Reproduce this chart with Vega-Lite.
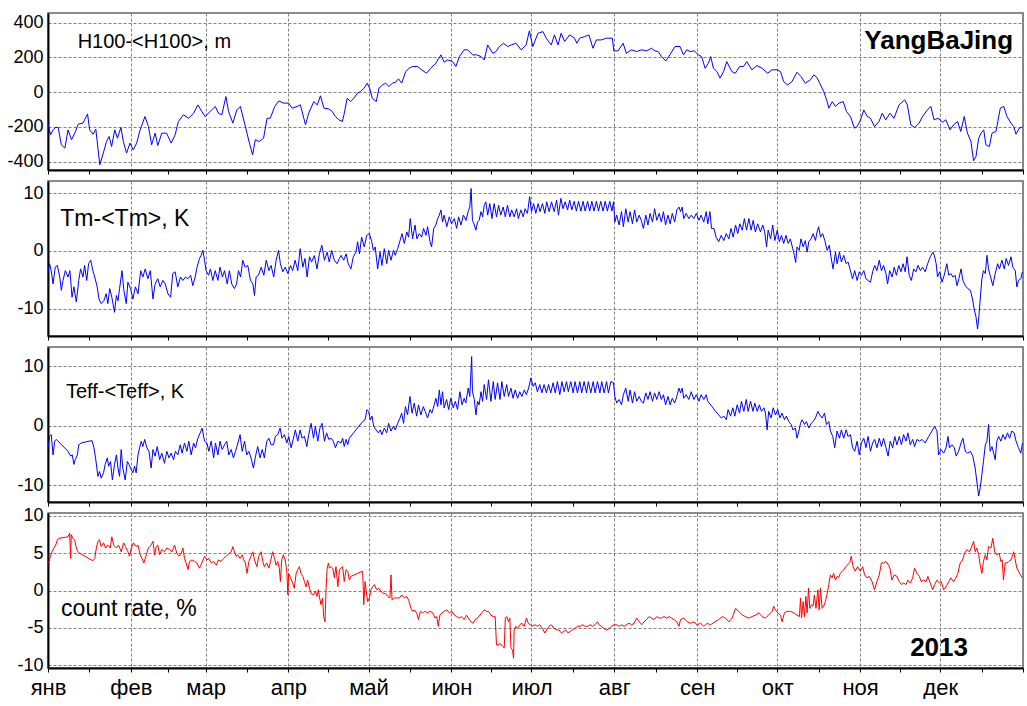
{
"$schema":"https://vega.github.io/schema/vega-lite/v6.json",
"background":"white",
"padding":{"left":6,"top":12,"right":5,"bottom":0},
"bounds":"flush",
"spacing":11,
"config":{
"font":"Liberation Sans",
"view":{"stroke":"#666","strokeWidth":1.5},
"axis":{"labelFont":"Liberation Sans","labelFontSize":18,"labelColor":"#000","gridColor":"#808080","gridDash":[3,2],"gridWidth":1,"domainColor":"#000","domainWidth":2,"tickColor":"#000","labelOverlap":false},
"axisY":{"ticks":false,"labelPadding":5,"labelOverlap":false,"labelFlush":false},
"axisX":{"tickSize":4,"labelFontSize":22,"labelPadding":5,"labelFlush":false,"labelOverlap":false,"labelBound":false}
},
"datasets":{
"h":[{"d":0,"v":-184},{"d":1.0,"v":-245},{"d":1.9,"v":-217},{"d":2.8,"v":-203},{"d":3.8,"v":-203},{"d":5.0,"v":-303},{"d":6.3,"v":-322},{"d":7.5,"v":-217},{"d":8.8,"v":-274},{"d":10.3,"v":-226},{"d":11.3,"v":-184},{"d":13.1,"v":-178},{"d":14.8,"v":-125},{"d":15.6,"v":-217},{"d":16.9,"v":-242},{"d":17.9,"v":-213},{"d":19.4,"v":-418},{"d":20.7,"v":-351},{"d":21.9,"v":-284},{"d":22.9,"v":-255},{"d":23.8,"v":-313},{"d":25.0,"v":-217},{"d":26.0,"v":-265},{"d":27.3,"v":-203},{"d":28.2,"v":-284},{"d":29.4,"v":-351},{"d":30.7,"v":-293},{"d":31.9,"v":-332},{"d":33.2,"v":-293},{"d":34.4,"v":-222},{"d":36.3,"v":-140},{"d":37.6,"v":-198},{"d":38.8,"v":-303},{"d":40.1,"v":-236},{"d":41.1,"v":-307},{"d":42.6,"v":-236},{"d":44.4,"v":-236},{"d":46.1,"v":-293},{"d":47.6,"v":-245},{"d":48.8,"v":-169},{"d":50.7,"v":-130},{"d":52.6,"v":-150},{"d":54.5,"v":-121},{"d":56.1,"v":-73},{"d":57.6,"v":-111},{"d":58.8,"v":-140},{"d":60.7,"v":-111},{"d":62.6,"v":-82},{"d":63.8,"v":-121},{"d":65.1,"v":-130},{"d":66.6,"v":-25},{"d":67.6,"v":-111},{"d":69.2,"v":-178},{"d":70.7,"v":-102},{"d":72.0,"v":-82},{"d":73.9,"v":-198},{"d":75.4,"v":-293},{"d":76.6,"v":-361},{"d":77.6,"v":-274},{"d":79.1,"v":-284},{"d":80.7,"v":-265},{"d":82.0,"v":-150},{"d":83.2,"v":-150},{"d":84.9,"v":-82},{"d":86.4,"v":-50},{"d":88.2,"v":-63},{"d":90.1,"v":-63},{"d":91.4,"v":-92},{"d":93.3,"v":-82},{"d":94.5,"v":-73},{"d":96.4,"v":-188},{"d":97.6,"v":-121},{"d":99.5,"v":-54},{"d":100.8,"v":-73},{"d":102.0,"v":-21},{"d":103.3,"v":-92},{"d":105.1,"v":-96},{"d":106.4,"v":-111},{"d":107.6,"v":-140},{"d":108.9,"v":-159},{"d":110.2,"v":-169},{"d":110.8,"v":-130},{"d":112.0,"v":-35},{"d":113.3,"v":-54},{"d":114.5,"v":-35},{"d":115.8,"v":-6},{"d":117.0,"v":4},{"d":118.3,"v":23},{"d":119.5,"v":52},{"d":120.4,"v":23},{"d":121.4,"v":-35},{"d":122.9,"v":-54},{"d":123.9,"v":23},{"d":125.2,"v":42},{"d":126.4,"v":52},{"d":127.7,"v":33},{"d":128.9,"v":52},{"d":130.2,"v":58},{"d":131.2,"v":77},{"d":132.4,"v":52},{"d":133.9,"v":119},{"d":135.2,"v":138},{"d":136.4,"v":148},{"d":138.3,"v":148},{"d":139.9,"v":129},{"d":141.7,"v":109},{"d":143.3,"v":138},{"d":145.2,"v":167},{"d":147.1,"v":215},{"d":148.3,"v":173},{"d":149.6,"v":186},{"d":151.5,"v":176},{"d":152.7,"v":148},{"d":154.0,"v":205},{"d":155.8,"v":244},{"d":157.1,"v":244},{"d":159.0,"v":215},{"d":160.5,"v":215},{"d":162.1,"v":205},{"d":163.3,"v":186},{"d":164.6,"v":272},{"d":166.5,"v":224},{"d":167.7,"v":234},{"d":169.0,"v":263},{"d":170.5,"v":282},{"d":172.1,"v":263},{"d":173.4,"v":272},{"d":175.2,"v":282},{"d":177.1,"v":244},{"d":179.0,"v":272},{"d":180.2,"v":353},{"d":181.5,"v":263},{"d":183.4,"v":339},{"d":185.3,"v":349},{"d":186.5,"v":311},{"d":188.4,"v":272},{"d":189.6,"v":330},{"d":190.9,"v":272},{"d":192.1,"v":339},{"d":193.4,"v":292},{"d":195.3,"v":330},{"d":197.1,"v":311},{"d":198.0,"v":282},{"d":199.0,"v":311},{"d":200.9,"v":320},{"d":202.5,"v":330},{"d":204.0,"v":253},{"d":205.3,"v":301},{"d":207.2,"v":301},{"d":209.0,"v":311},{"d":211.3,"v":311},{"d":211.8,"v":238},{"d":213.4,"v":238},{"d":215.3,"v":282},{"d":216.5,"v":224},{"d":218.4,"v":244},{"d":220.3,"v":234},{"d":222.2,"v":244},{"d":224.1,"v":238},{"d":225.9,"v":253},{"d":227.2,"v":238},{"d":228.4,"v":234},{"d":229.7,"v":205},{"d":231.3,"v":180},{"d":232.8,"v":215},{"d":234.7,"v":263},{"d":236.6,"v":263},{"d":237.9,"v":215},{"d":239.1,"v":244},{"d":240.4,"v":234},{"d":241.9,"v":238},{"d":243.5,"v":215},{"d":244.7,"v":205},{"d":246.0,"v":138},{"d":247.2,"v":167},{"d":248.1,"v":205},{"d":249.1,"v":138},{"d":250.4,"v":119},{"d":251.6,"v":81},{"d":252.9,"v":119},{"d":254.1,"v":176},{"d":256.0,"v":119},{"d":257.3,"v":109},{"d":258.9,"v":148},{"d":260.4,"v":148},{"d":261.6,"v":176},{"d":263.5,"v":129},{"d":265.4,"v":153},{"d":267.3,"v":138},{"d":269.4,"v":109},{"d":271.0,"v":129},{"d":272.9,"v":129},{"d":274.2,"v":119},{"d":275.4,"v":61},{"d":276.9,"v":42},{"d":278.5,"v":61},{"d":280.4,"v":115},{"d":281.9,"v":90},{"d":283.5,"v":52},{"d":285.4,"v":71},{"d":286.7,"v":100},{"d":287.9,"v":84},{"d":288.9,"v":52},{"d":290.4,"v":4},{"d":291.7,"v":-54},{"d":292.3,"v":-92},{"d":293.6,"v":-54},{"d":294.8,"v":-82},{"d":296.1,"v":-63},{"d":297.7,"v":-54},{"d":298.9,"v":-111},{"d":300.4,"v":-140},{"d":301.9,"v":-207},{"d":302.9,"v":-198},{"d":304.2,"v":-159},{"d":305.4,"v":-102},{"d":306.7,"v":-140},{"d":307.9,"v":-150},{"d":309.4,"v":-198},{"d":311.1,"v":-169},{"d":312.3,"v":-121},{"d":313.6,"v":-159},{"d":315.2,"v":-121},{"d":316.7,"v":-150},{"d":318.6,"v":-73},{"d":320.7,"v":-44},{"d":321.7,"v":-73},{"d":323.0,"v":-188},{"d":324.5,"v":-203},{"d":326.1,"v":-178},{"d":327.4,"v":-140},{"d":329.2,"v":-102},{"d":330.5,"v":-82},{"d":331.7,"v":-159},{"d":333.2,"v":-150},{"d":334.9,"v":-173},{"d":336.1,"v":-159},{"d":337.7,"v":-217},{"d":339.0,"v":-188},{"d":340.5,"v":-169},{"d":341.7,"v":-226},{"d":343.0,"v":-140},{"d":344.2,"v":-236},{"d":345.5,"v":-284},{"d":346.5,"v":-395},{"d":347.4,"v":-370},{"d":348.4,"v":-265},{"d":349.3,"v":-236},{"d":350.3,"v":-217},{"d":351.1,"v":-303},{"d":352.4,"v":-313},{"d":353.4,"v":-236},{"d":354.9,"v":-226},{"d":356.5,"v":-92},{"d":357.8,"v":-82},{"d":359.0,"v":-140},{"d":360.5,"v":-178},{"d":361.5,"v":-198},{"d":362.4,"v":-242},{"d":363.6,"v":-207},{"d":364.8,"v":-200}],
"tm":[{"d":0,"v":-3.6},{"d":0.6,"v":-2.2},{"d":1.2,"v":-3.4},{"d":1.9,"v":-5.7},{"d":2.7,"v":-2.8},{"d":3.5,"v":-2.5},{"d":4.4,"v":-4.5},{"d":5.0,"v":-6.8},{"d":5.6,"v":-5.1},{"d":6.5,"v":-3.4},{"d":7.5,"v":-4.5},{"d":8.2,"v":-3.4},{"d":9.0,"v":-8.0},{"d":9.7,"v":-6.2},{"d":10.6,"v":-8.8},{"d":11.5,"v":-5.1},{"d":12.2,"v":-3.1},{"d":13.1,"v":-4.5},{"d":13.7,"v":-2.5},{"d":14.5,"v":-5.1},{"d":15.2,"v":-2.2},{"d":16.0,"v":-1.6},{"d":16.8,"v":-3.4},{"d":17.5,"v":-4.5},{"d":18.4,"v":-6.2},{"d":19.1,"v":-8.3},{"d":19.9,"v":-9.1},{"d":20.9,"v":-8.6},{"d":21.8,"v":-7.4},{"d":22.4,"v":-9.1},{"d":23.1,"v":-6.5},{"d":23.9,"v":-8.0},{"d":24.9,"v":-10.6},{"d":25.6,"v":-7.7},{"d":26.2,"v":-8.6},{"d":26.8,"v":-6.5},{"d":27.7,"v":-3.4},{"d":28.4,"v":-6.8},{"d":29.3,"v":-9.1},{"d":29.9,"v":-5.4},{"d":30.9,"v":-6.5},{"d":31.8,"v":-8.3},{"d":32.7,"v":-6.2},{"d":33.7,"v":-7.4},{"d":34.7,"v":-3.4},{"d":35.5,"v":-4.5},{"d":36.4,"v":-3.1},{"d":37.4,"v":-4.8},{"d":38.3,"v":-3.4},{"d":39.3,"v":-8.3},{"d":40.1,"v":-5.7},{"d":41.1,"v":-4.8},{"d":42.0,"v":-6.2},{"d":43.0,"v":-5.1},{"d":43.9,"v":-5.7},{"d":44.9,"v":-7.4},{"d":45.9,"v":-8.0},{"d":46.7,"v":-3.9},{"d":47.6,"v":-3.6},{"d":48.6,"v":-6.2},{"d":49.6,"v":-4.5},{"d":50.5,"v":-5.1},{"d":51.5,"v":-4.5},{"d":52.4,"v":-4.8},{"d":53.4,"v":-4.2},{"d":54.2,"v":-6.0},{"d":55.1,"v":-4.5},{"d":55.8,"v":-2.8},{"d":56.7,"v":-1.3},{"d":57.3,"v":-0.8},{"d":58.0,"v":0.1},{"d":58.6,"v":-1.6},{"d":59.2,"v":-3.4},{"d":60.1,"v":-4.2},{"d":60.8,"v":-3.1},{"d":61.7,"v":-5.1},{"d":62.6,"v":-3.4},{"d":63.6,"v":-5.1},{"d":64.4,"v":-2.8},{"d":65.3,"v":-4.5},{"d":66.1,"v":-3.4},{"d":67.1,"v":-5.7},{"d":67.9,"v":-3.4},{"d":68.8,"v":-5.7},{"d":69.8,"v":-6.5},{"d":70.6,"v":-5.7},{"d":71.3,"v":-3.4},{"d":72.1,"v":-4.5},{"d":72.9,"v":-1.6},{"d":73.8,"v":-2.8},{"d":74.8,"v":-2.5},{"d":75.8,"v":-5.1},{"d":76.7,"v":-5.7},{"d":77.3,"v":-7.7},{"d":77.9,"v":-4.5},{"d":78.8,"v":-4.2},{"d":79.8,"v":-2.8},{"d":80.8,"v":-4.2},{"d":81.7,"v":-1.6},{"d":82.7,"v":-3.4},{"d":83.5,"v":-2.5},{"d":84.5,"v":-4.5},{"d":85.4,"v":-1.6},{"d":86.3,"v":0.1},{"d":87.0,"v":-2.2},{"d":87.9,"v":-3.6},{"d":88.8,"v":-2.8},{"d":89.8,"v":-3.9},{"d":90.8,"v":-2.5},{"d":91.6,"v":-3.4},{"d":92.5,"v":-1.6},{"d":93.5,"v":-3.4},{"d":94.4,"v":0.4},{"d":95.4,"v":-2.8},{"d":96.2,"v":-1.3},{"d":97.0,"v":-4.5},{"d":97.9,"v":-1.0},{"d":98.7,"v":-1.9},{"d":99.7,"v":-0.8},{"d":100.7,"v":-3.1},{"d":101.6,"v":-0.5},{"d":102.5,"v":1.0},{"d":103.5,"v":-1.6},{"d":104.5,"v":-0.2},{"d":105.3,"v":-1.9},{"d":106.2,"v":0.1},{"d":107.2,"v":-1.6},{"d":108.2,"v":-2.2},{"d":109.1,"v":-1.3},{"d":109.7,"v":-0.75},{"d":110.7,"v":-1.6},{"d":111.6,"v":-0.5},{"d":112.4,"v":-2.2},{"d":113.4,"v":-3.1},{"d":114.3,"v":-1.0},{"d":115.3,"v":-0.2},{"d":115.9,"v":1.6},{"d":116.6,"v":-0.5},{"d":117.4,"v":2.4},{"d":118.4,"v":0.7},{"d":119.3,"v":2.7},{"d":120.3,"v":3.0},{"d":121.2,"v":1.6},{"d":121.8,"v":0.1},{"d":122.5,"v":0.7},{"d":123.4,"v":-3.1},{"d":124.3,"v":-0.2},{"d":125.0,"v":-2.5},{"d":125.9,"v":0.4},{"d":126.8,"v":-2.2},{"d":127.5,"v":0.1},{"d":128.4,"v":-1.6},{"d":129.3,"v":0.1},{"d":130.0,"v":-0.75},{"d":130.9,"v":0.4},{"d":131.8,"v":1.8},{"d":132.5,"v":3.0},{"d":133.4,"v":1.3},{"d":134.3,"v":3.3},{"d":135.0,"v":2.4},{"d":135.6,"v":5.6},{"d":136.5,"v":2.1},{"d":137.4,"v":4.5},{"d":138.1,"v":2.1},{"d":139.0,"v":3.0},{"d":139.9,"v":2.4},{"d":140.6,"v":3.9},{"d":141.5,"v":2.7},{"d":142.1,"v":4.2},{"d":143.0,"v":1.6},{"d":143.6,"v":0.7},{"d":144.4,"v":3.9},{"d":145.2,"v":4.5},{"d":145.9,"v":5.6},{"d":146.5,"v":6.2},{"d":147.1,"v":7.1},{"d":147.7,"v":5.0},{"d":148.3,"v":6.2},{"d":149.3,"v":4.2},{"d":150.2,"v":5.9},{"d":151.1,"v":4.7},{"d":152.1,"v":5.6},{"d":153.0,"v":3.9},{"d":153.7,"v":5.9},{"d":154.6,"v":4.5},{"d":155.5,"v":6.2},{"d":156.5,"v":5.3},{"d":157.3,"v":6.8},{"d":157.9,"v":7.6},{"d":158.4,"v":10.8},{"d":158.9,"v":5.3},{"d":159.6,"v":4.5},{"d":160.2,"v":3.6},{"d":160.8,"v":5.0},{"d":161.4,"v":5.3},{"d":162.1,"v":6.8},{"d":162.7,"v":5.9},{"d":163.3,"v":7.9},{"d":163.9,"v":8.5},{"d":164.6,"v":6.2},{"d":165.4,"v":8.2},{"d":166.2,"v":5.6},{"d":167.0,"v":8.2},{"d":167.9,"v":5.9},{"d":168.7,"v":7.9},{"d":169.5,"v":6.2},{"d":170.4,"v":7.6},{"d":171.2,"v":5.9},{"d":172.0,"v":7.9},{"d":172.9,"v":5.9},{"d":173.6,"v":7.1},{"d":174.5,"v":5.9},{"d":175.4,"v":7.3},{"d":176.1,"v":5.6},{"d":177.0,"v":7.1},{"d":177.9,"v":5.9},{"d":178.6,"v":7.3},{"d":179.5,"v":6.5},{"d":180.3,"v":9.4},{"d":181.0,"v":6.8},{"d":181.8,"v":8.2},{"d":182.6,"v":6.5},{"d":183.5,"v":8.2},{"d":184.2,"v":6.8},{"d":185.1,"v":8.2},{"d":186.0,"v":6.5},{"d":186.7,"v":8.5},{"d":187.6,"v":6.8},{"d":188.5,"v":8.5},{"d":189.5,"v":6.8},{"d":190.4,"v":8.8},{"d":191.1,"v":6.2},{"d":192.0,"v":9.1},{"d":192.8,"v":7.3},{"d":193.6,"v":8.5},{"d":194.5,"v":7.1},{"d":195.3,"v":8.8},{"d":196.1,"v":7.1},{"d":197.0,"v":8.6},{"d":197.8,"v":6.9},{"d":198.6,"v":8.6},{"d":199.5,"v":6.9},{"d":200.3,"v":8.6},{"d":201.1,"v":6.9},{"d":202.0,"v":8.6},{"d":202.8,"v":6.9},{"d":203.6,"v":8.6},{"d":204.4,"v":6.9},{"d":205.3,"v":8.6},{"d":206.1,"v":6.9},{"d":206.9,"v":8.6},{"d":207.8,"v":6.9},{"d":208.6,"v":8.6},{"d":209.4,"v":6.9},{"d":210.3,"v":8.6},{"d":211.1,"v":6.9},{"d":211.7,"v":8.5},{"d":212.2,"v":5.0},{"d":212.9,"v":6.2},{"d":213.8,"v":4.5},{"d":214.7,"v":6.8},{"d":215.4,"v":4.2},{"d":216.3,"v":7.3},{"d":217.2,"v":5.0},{"d":217.9,"v":6.8},{"d":218.8,"v":4.7},{"d":219.6,"v":7.1},{"d":220.4,"v":5.0},{"d":221.3,"v":6.2},{"d":222.1,"v":5.3},{"d":222.9,"v":3.9},{"d":223.8,"v":6.2},{"d":224.6,"v":4.5},{"d":225.4,"v":6.5},{"d":226.3,"v":5.0},{"d":227.1,"v":7.3},{"d":227.9,"v":5.3},{"d":228.8,"v":6.5},{"d":229.6,"v":5.0},{"d":230.4,"v":6.8},{"d":231.2,"v":4.5},{"d":232.1,"v":6.2},{"d":232.9,"v":4.7},{"d":233.7,"v":6.5},{"d":234.6,"v":5.0},{"d":235.4,"v":7.1},{"d":236.2,"v":7.6},{"d":236.8,"v":6.8},{"d":237.4,"v":7.6},{"d":238.0,"v":5.6},{"d":238.9,"v":6.5},{"d":239.9,"v":5.6},{"d":240.8,"v":6.2},{"d":241.8,"v":5.6},{"d":242.7,"v":6.5},{"d":243.7,"v":5.3},{"d":244.5,"v":6.2},{"d":245.5,"v":5.0},{"d":246.4,"v":6.8},{"d":247.0,"v":4.7},{"d":247.8,"v":6.8},{"d":248.4,"v":3.9},{"d":249.3,"v":3.9},{"d":250.1,"v":2.4},{"d":251.1,"v":1.6},{"d":252.0,"v":2.7},{"d":253.0,"v":1.8},{"d":253.9,"v":3.0},{"d":254.9,"v":2.1},{"d":255.7,"v":3.9},{"d":256.5,"v":2.4},{"d":257.4,"v":4.5},{"d":258.2,"v":3.0},{"d":259.0,"v":4.7},{"d":259.9,"v":3.6},{"d":260.7,"v":5.6},{"d":261.5,"v":3.6},{"d":262.4,"v":5.6},{"d":263.2,"v":3.6},{"d":264.0,"v":5.3},{"d":264.8,"v":3.3},{"d":265.7,"v":4.7},{"d":266.7,"v":3.3},{"d":267.6,"v":4.5},{"d":268.3,"v":3.3},{"d":269.0,"v":0.7},{"d":269.6,"v":3.6},{"d":270.5,"v":2.1},{"d":271.3,"v":4.5},{"d":272.1,"v":1.8},{"d":273.0,"v":3.6},{"d":273.8,"v":1.6},{"d":274.6,"v":2.7},{"d":275.4,"v":1.3},{"d":276.3,"v":2.7},{"d":277.1,"v":1.3},{"d":277.9,"v":2.1},{"d":278.8,"v":0.4},{"d":279.4,"v":-0.75},{"d":279.9,"v":-2.0},{"d":280.4,"v":0.7},{"d":281.2,"v":0.1},{"d":281.9,"v":2.1},{"d":282.7,"v":0.7},{"d":283.5,"v":1.8},{"d":284.2,"v":-0.2},{"d":284.8,"v":1.6},{"d":285.7,"v":2.1},{"d":286.4,"v":3.0},{"d":287.3,"v":1.8},{"d":287.9,"v":3.3},{"d":288.5,"v":4.2},{"d":289.2,"v":2.4},{"d":290.0,"v":3.0},{"d":290.8,"v":1.8},{"d":291.7,"v":0.1},{"d":292.5,"v":1.0},{"d":293.1,"v":-1.0},{"d":293.9,"v":-3.1},{"d":294.8,"v":-0.2},{"d":295.4,"v":-2.2},{"d":296.3,"v":-0.2},{"d":297.0,"v":-1.9},{"d":297.9,"v":-0.75},{"d":298.8,"v":-2.2},{"d":299.5,"v":-1.9},{"d":300.4,"v":-3.4},{"d":301.2,"v":-4.8},{"d":302.0,"v":-3.4},{"d":302.9,"v":-5.1},{"d":303.7,"v":-3.6},{"d":304.5,"v":-4.2},{"d":305.4,"v":-3.4},{"d":306.2,"v":-4.8},{"d":307.0,"v":-5.1},{"d":307.9,"v":-5.4},{"d":308.7,"v":-3.6},{"d":309.5,"v":-2.5},{"d":310.3,"v":-3.4},{"d":311.2,"v":-1.6},{"d":312.0,"v":-3.4},{"d":312.8,"v":-2.5},{"d":313.7,"v":-3.9},{"d":314.3,"v":-5.7},{"d":315.1,"v":-3.4},{"d":316.0,"v":-4.5},{"d":316.8,"v":-2.8},{"d":317.6,"v":-4.2},{"d":318.5,"v":-2.5},{"d":319.3,"v":-3.6},{"d":320.1,"v":-2.2},{"d":320.9,"v":-3.6},{"d":321.6,"v":-1.0},{"d":322.4,"v":-4.2},{"d":323.2,"v":-5.1},{"d":324.1,"v":-3.1},{"d":324.9,"v":-3.6},{"d":325.7,"v":-2.5},{"d":326.6,"v":-3.4},{"d":327.4,"v":-2.8},{"d":328.4,"v":-3.6},{"d":329.3,"v":-2.2},{"d":330.3,"v":-1.0},{"d":331.3,"v":-0.2},{"d":331.8,"v":-0.75},{"d":332.5,"v":-2.2},{"d":333.0,"v":-4.5},{"d":333.8,"v":-3.6},{"d":334.7,"v":-5.4},{"d":335.5,"v":-4.2},{"d":336.5,"v":-2.2},{"d":337.2,"v":-4.2},{"d":338.0,"v":-3.9},{"d":338.8,"v":-4.5},{"d":339.6,"v":-4.2},{"d":340.3,"v":-6.0},{"d":341.0,"v":-4.8},{"d":341.8,"v":-3.1},{"d":342.5,"v":-5.1},{"d":343.4,"v":-6.0},{"d":344.3,"v":-6.5},{"d":345.3,"v":-6.8},{"d":346.1,"v":-8.3},{"d":346.7,"v":-10.0},{"d":347.4,"v":-11.4},{"d":348.0,"v":-13.5},{"d":348.5,"v":-11.2},{"d":349.0,"v":-8.3},{"d":349.6,"v":-4.8},{"d":350.2,"v":-3.4},{"d":350.9,"v":-3.9},{"d":351.5,"v":-0.75},{"d":352.1,"v":-3.1},{"d":352.7,"v":-4.2},{"d":353.7,"v":-6.0},{"d":354.6,"v":-3.9},{"d":355.5,"v":-2.2},{"d":356.2,"v":-3.1},{"d":357.1,"v":-1.6},{"d":358.0,"v":-3.1},{"d":358.7,"v":-1.3},{"d":359.6,"v":-2.5},{"d":360.5,"v":-1.0},{"d":361.2,"v":-2.8},{"d":362.1,"v":-3.4},{"d":362.7,"v":-6.2},{"d":363.3,"v":-5.1},{"d":364.2,"v":-4.8},{"d":364.8,"v":-3.6}],
"te":[{"d":0,"v":-3.7},{"d":0.6,"v":-1.8},{"d":1.2,"v":-1.5},{"d":1.9,"v":-4.9},{"d":2.5,"v":-2.6},{"d":3.1,"v":-2.3},{"d":7.5,"v":-4.3},{"d":8.5,"v":-5.1},{"d":9.1,"v":-4.9},{"d":9.7,"v":-6.5},{"d":10.2,"v":-5.7},{"d":11.0,"v":-4.9},{"d":11.5,"v":-3.2},{"d":12.5,"v":-2.9},{"d":14.3,"v":-2.7},{"d":16.5,"v":-2.5},{"d":17.2,"v":-3.7},{"d":17.8,"v":-5.4},{"d":18.7,"v":-8.5},{"d":19.3,"v":-7.7},{"d":19.9,"v":-8.8},{"d":20.8,"v":-7.9},{"d":21.4,"v":-6.5},{"d":22.2,"v":-5.4},{"d":22.7,"v":-6.8},{"d":23.4,"v":-6.0},{"d":24.1,"v":-9.1},{"d":24.9,"v":-6.5},{"d":25.6,"v":-4.9},{"d":26.2,"v":-7.1},{"d":26.8,"v":-8.5},{"d":27.4,"v":-4.0},{"d":28.0,"v":-7.1},{"d":28.9,"v":-9.1},{"d":29.7,"v":-6.0},{"d":30.3,"v":-6.5},{"d":31.2,"v":-7.4},{"d":31.8,"v":-7.9},{"d":32.4,"v":-6.8},{"d":33.0,"v":-7.9},{"d":33.7,"v":-4.9},{"d":34.3,"v":-3.7},{"d":34.9,"v":-2.6},{"d":35.5,"v":-3.5},{"d":36.2,"v":-2.3},{"d":37.0,"v":-3.7},{"d":37.8,"v":-4.3},{"d":38.6,"v":-7.1},{"d":39.3,"v":-4.0},{"d":40.1,"v":-5.1},{"d":40.9,"v":-3.5},{"d":41.8,"v":-5.7},{"d":42.6,"v":-4.6},{"d":43.6,"v":-6.3},{"d":44.5,"v":-4.3},{"d":45.3,"v":-5.4},{"d":46.1,"v":-4.6},{"d":47.0,"v":-5.7},{"d":47.7,"v":-4.3},{"d":48.6,"v":-4.9},{"d":49.5,"v":-3.2},{"d":50.2,"v":-4.6},{"d":51.1,"v":-2.9},{"d":52.0,"v":-4.3},{"d":52.7,"v":-2.6},{"d":53.6,"v":-4.9},{"d":54.5,"v":-2.9},{"d":55.2,"v":-3.7},{"d":56.1,"v":-2.1},{"d":57.0,"v":-1.2},{"d":57.7,"v":-0.4},{"d":58.6,"v":-2.6},{"d":59.5,"v":-2.9},{"d":60.2,"v":-4.3},{"d":61.1,"v":-2.6},{"d":62.0,"v":-5.4},{"d":62.7,"v":-2.9},{"d":63.6,"v":-4.9},{"d":64.4,"v":-2.6},{"d":65.2,"v":-4.0},{"d":66.1,"v":-3.2},{"d":66.9,"v":-2.6},{"d":67.7,"v":-4.9},{"d":68.6,"v":-4.0},{"d":69.4,"v":-5.4},{"d":70.2,"v":-4.3},{"d":71.1,"v":-2.9},{"d":71.9,"v":-1.5},{"d":72.7,"v":-4.3},{"d":73.6,"v":-2.6},{"d":74.4,"v":-4.9},{"d":75.2,"v":-4.3},{"d":76.0,"v":-5.4},{"d":76.9,"v":-7.1},{"d":77.7,"v":-5.1},{"d":78.5,"v":-3.5},{"d":79.4,"v":-5.4},{"d":80.2,"v":-4.0},{"d":81.0,"v":-5.4},{"d":81.9,"v":-2.6},{"d":82.7,"v":-2.1},{"d":83.5,"v":-3.2},{"d":84.4,"v":-3.2},{"d":85.1,"v":-1.8},{"d":86.0,"v":-1.5},{"d":86.9,"v":-0.4},{"d":87.6,"v":-2.1},{"d":88.5,"v":-1.5},{"d":89.4,"v":-2.9},{"d":90.1,"v":-1.8},{"d":91.0,"v":-3.7},{"d":91.9,"v":-2.1},{"d":92.6,"v":-0.7},{"d":93.5,"v":-2.6},{"d":94.4,"v":-0.7},{"d":95.1,"v":-2.1},{"d":96.0,"v":-1.8},{"d":96.9,"v":-3.5},{"d":97.6,"v":-1.5},{"d":98.5,"v":0.4},{"d":99.4,"v":-2.1},{"d":100.1,"v":-0.1},{"d":101.0,"v":-2.6},{"d":101.8,"v":-0.4},{"d":102.6,"v":0.4},{"d":103.5,"v":-2.6},{"d":104.3,"v":-1.2},{"d":105.1,"v":-2.3},{"d":106.0,"v":-2.1},{"d":106.8,"v":-2.6},{"d":107.6,"v":-3.7},{"d":108.5,"v":-2.6},{"d":109.7,"v":-2.9},{"d":110.3,"v":-2.1},{"d":110.9,"v":-3.5},{"d":111.6,"v":-2.3},{"d":112.2,"v":-3.2},{"d":112.8,"v":-2.1},{"d":117.8,"v":0.7},{"d":118.7,"v":1.0},{"d":119.4,"v":2.7},{"d":120.0,"v":2.4},{"d":120.7,"v":1.0},{"d":121.3,"v":1.6},{"d":121.9,"v":-0.1},{"d":122.8,"v":-0.7},{"d":123.7,"v":-1.2},{"d":124.4,"v":-0.7},{"d":125.0,"v":-1.5},{"d":125.9,"v":-0.4},{"d":126.8,"v":-1.2},{"d":127.5,"v":0.4},{"d":128.4,"v":-0.9},{"d":129.3,"v":-0.1},{"d":130.0,"v":-0.7},{"d":130.9,"v":0.4},{"d":131.8,"v":1.3},{"d":132.4,"v":2.1},{"d":133.1,"v":0.4},{"d":133.8,"v":3.2},{"d":134.6,"v":1.8},{"d":135.5,"v":4.9},{"d":136.3,"v":2.1},{"d":137.1,"v":3.8},{"d":138.0,"v":1.6},{"d":138.7,"v":3.5},{"d":139.6,"v":1.8},{"d":140.5,"v":3.2},{"d":141.2,"v":2.4},{"d":142.1,"v":1.3},{"d":143.0,"v":2.7},{"d":143.7,"v":2.1},{"d":144.6,"v":3.5},{"d":145.2,"v":4.6},{"d":145.9,"v":3.2},{"d":146.5,"v":6.0},{"d":147.1,"v":3.5},{"d":147.7,"v":5.7},{"d":148.3,"v":3.0},{"d":149.2,"v":4.4},{"d":150.0,"v":2.7},{"d":150.8,"v":4.6},{"d":151.7,"v":3.0},{"d":152.5,"v":4.1},{"d":153.3,"v":2.7},{"d":154.2,"v":5.7},{"d":155.0,"v":3.5},{"d":155.8,"v":4.6},{"d":156.4,"v":3.8},{"d":157.3,"v":6.3},{"d":157.9,"v":4.9},{"d":158.6,"v":11.6},{"d":158.9,"v":5.7},{"d":159.6,"v":4.4},{"d":160.2,"v":1.8},{"d":160.8,"v":4.1},{"d":161.4,"v":3.5},{"d":162.1,"v":5.7},{"d":162.7,"v":4.1},{"d":163.3,"v":6.9},{"d":164.2,"v":4.4},{"d":164.9,"v":7.7},{"d":165.8,"v":4.1},{"d":166.7,"v":7.4},{"d":167.4,"v":4.4},{"d":168.3,"v":7.2},{"d":169.2,"v":4.4},{"d":169.9,"v":7.4},{"d":170.8,"v":4.9},{"d":171.7,"v":6.9},{"d":172.4,"v":4.9},{"d":173.3,"v":6.3},{"d":174.1,"v":4.6},{"d":174.9,"v":6.0},{"d":175.8,"v":4.6},{"d":176.6,"v":5.7},{"d":177.4,"v":4.9},{"d":178.3,"v":6.0},{"d":179.1,"v":5.2},{"d":179.9,"v":6.3},{"d":180.8,"v":8.0},{"d":181.6,"v":6.6},{"d":182.4,"v":7.2},{"d":183.2,"v":5.7},{"d":184.1,"v":6.9},{"d":184.9,"v":5.5},{"d":185.7,"v":6.9},{"d":186.6,"v":5.5},{"d":187.4,"v":6.9},{"d":188.2,"v":5.5},{"d":189.1,"v":7.2},{"d":189.9,"v":5.5},{"d":190.7,"v":7.4},{"d":191.6,"v":5.2},{"d":192.4,"v":7.4},{"d":193.2,"v":5.7},{"d":194.1,"v":7.4},{"d":194.8,"v":5.7},{"d":195.7,"v":7.4},{"d":196.6,"v":5.5},{"d":197.3,"v":7.4},{"d":198.2,"v":5.5},{"d":199.1,"v":7.4},{"d":199.8,"v":5.5},{"d":200.7,"v":7.4},{"d":201.6,"v":5.5},{"d":202.3,"v":7.4},{"d":203.2,"v":5.5},{"d":204.1,"v":7.4},{"d":204.8,"v":5.5},{"d":205.7,"v":7.4},{"d":206.6,"v":5.5},{"d":207.3,"v":7.4},{"d":208.2,"v":5.5},{"d":209.1,"v":7.4},{"d":209.8,"v":5.5},{"d":210.7,"v":7.4},{"d":211.7,"v":7.2},{"d":212.2,"v":4.9},{"d":212.9,"v":3.8},{"d":213.8,"v":4.4},{"d":214.7,"v":3.5},{"d":215.4,"v":5.2},{"d":216.3,"v":6.3},{"d":217.2,"v":4.1},{"d":217.9,"v":6.0},{"d":218.8,"v":3.8},{"d":219.6,"v":5.7},{"d":220.4,"v":4.1},{"d":221.3,"v":4.9},{"d":222.1,"v":4.1},{"d":222.9,"v":3.8},{"d":223.8,"v":5.5},{"d":224.6,"v":4.4},{"d":225.4,"v":5.7},{"d":226.3,"v":4.1},{"d":227.1,"v":5.5},{"d":227.9,"v":4.4},{"d":228.8,"v":5.7},{"d":229.6,"v":4.4},{"d":230.4,"v":5.2},{"d":231.2,"v":3.5},{"d":232.1,"v":4.9},{"d":232.9,"v":3.5},{"d":233.7,"v":4.6},{"d":234.6,"v":3.8},{"d":235.4,"v":4.9},{"d":236.2,"v":6.3},{"d":236.8,"v":5.5},{"d":237.4,"v":6.3},{"d":238.0,"v":4.6},{"d":238.9,"v":5.2},{"d":239.9,"v":4.4},{"d":240.8,"v":5.7},{"d":241.8,"v":4.4},{"d":242.7,"v":5.2},{"d":243.7,"v":4.1},{"d":244.5,"v":5.2},{"d":245.5,"v":4.4},{"d":246.4,"v":5.2},{"d":247.0,"v":4.1},{"d":248.6,"v":3.2},{"d":249.9,"v":2.4},{"d":251.1,"v":1.8},{"d":252.0,"v":1.3},{"d":253.0,"v":1.6},{"d":253.9,"v":1.0},{"d":254.6,"v":2.7},{"d":255.5,"v":1.6},{"d":256.4,"v":3.0},{"d":257.1,"v":1.6},{"d":258.0,"v":3.5},{"d":258.9,"v":2.1},{"d":259.6,"v":4.1},{"d":260.5,"v":2.4},{"d":261.4,"v":4.4},{"d":262.1,"v":2.4},{"d":263.0,"v":4.1},{"d":263.9,"v":2.4},{"d":264.6,"v":3.8},{"d":265.5,"v":2.4},{"d":266.3,"v":3.5},{"d":267.1,"v":2.4},{"d":268.0,"v":3.0},{"d":268.6,"v":2.1},{"d":269.2,"v":-0.7},{"d":269.8,"v":2.4},{"d":270.7,"v":1.3},{"d":271.5,"v":3.0},{"d":272.3,"v":1.8},{"d":273.2,"v":2.7},{"d":274.0,"v":1.3},{"d":274.8,"v":2.1},{"d":275.7,"v":1.0},{"d":276.4,"v":1.6},{"d":277.3,"v":0.7},{"d":278.2,"v":0.2},{"d":278.9,"v":-0.7},{"d":279.8,"v":-0.4},{"d":280.4,"v":-2.1},{"d":281.1,"v":-0.9},{"d":281.7,"v":0.4},{"d":282.3,"v":1.0},{"d":283.2,"v":0.2},{"d":283.9,"v":0.7},{"d":284.8,"v":-0.4},{"d":285.7,"v":0.4},{"d":286.4,"v":0.7},{"d":287.3,"v":1.3},{"d":288.2,"v":2.4},{"d":288.9,"v":1.8},{"d":289.8,"v":1.3},{"d":290.7,"v":2.1},{"d":291.4,"v":0.2},{"d":292.3,"v":0.7},{"d":292.9,"v":-0.9},{"d":293.8,"v":-1.8},{"d":294.5,"v":-3.7},{"d":295.4,"v":-0.9},{"d":296.3,"v":-2.1},{"d":297.0,"v":-0.7},{"d":297.9,"v":-2.1},{"d":298.8,"v":-0.7},{"d":299.5,"v":-1.8},{"d":300.4,"v":-1.5},{"d":301.2,"v":-3.7},{"d":302.0,"v":-4.3},{"d":302.9,"v":-2.6},{"d":303.7,"v":-4.9},{"d":304.5,"v":-2.9},{"d":305.4,"v":-2.1},{"d":306.2,"v":-3.7},{"d":307.0,"v":-1.8},{"d":307.9,"v":-4.3},{"d":308.7,"v":-2.9},{"d":309.5,"v":-2.3},{"d":310.3,"v":-3.7},{"d":311.2,"v":-2.1},{"d":312.0,"v":-3.5},{"d":312.8,"v":-2.1},{"d":313.7,"v":-3.7},{"d":314.5,"v":-5.1},{"d":315.3,"v":-2.6},{"d":316.2,"v":-3.7},{"d":317.0,"v":-1.8},{"d":317.8,"v":-3.2},{"d":318.7,"v":-1.8},{"d":319.5,"v":-3.2},{"d":320.3,"v":-1.5},{"d":321.2,"v":-2.6},{"d":321.9,"v":-1.2},{"d":322.8,"v":-3.2},{"d":323.7,"v":-2.3},{"d":324.4,"v":-3.5},{"d":325.3,"v":-2.3},{"d":326.2,"v":-2.6},{"d":327.2,"v":-2.3},{"d":328.4,"v":-2.9},{"d":329.7,"v":-1.8},{"d":330.9,"v":-0.9},{"d":331.9,"v":-0.1},{"d":332.8,"v":-0.9},{"d":333.4,"v":-4.9},{"d":334.3,"v":-4.0},{"d":335.3,"v":-4.6},{"d":336.2,"v":-3.7},{"d":336.9,"v":-1.8},{"d":337.5,"v":-3.7},{"d":338.4,"v":-3.2},{"d":339.3,"v":-3.7},{"d":340.0,"v":-5.1},{"d":340.9,"v":-4.3},{"d":341.8,"v":-2.9},{"d":342.5,"v":-2.1},{"d":343.4,"v":-4.3},{"d":344.3,"v":-4.6},{"d":345.3,"v":-4.3},{"d":346.2,"v":-5.1},{"d":347.1,"v":-7.1},{"d":347.7,"v":-9.3},{"d":348.4,"v":-11.8},{"d":349.0,"v":-10.4},{"d":349.6,"v":-8.2},{"d":350.2,"v":-6.0},{"d":350.9,"v":-3.2},{"d":351.5,"v":-2.6},{"d":352.1,"v":0.2},{"d":352.7,"v":-4.3},{"d":353.4,"v":-3.5},{"d":354.0,"v":-4.6},{"d":354.6,"v":-5.7},{"d":355.2,"v":-2.6},{"d":355.9,"v":-1.8},{"d":356.7,"v":-2.6},{"d":357.5,"v":-1.5},{"d":358.3,"v":-2.3},{"d":359.2,"v":-1.2},{"d":360.0,"v":-2.1},{"d":360.8,"v":-0.9},{"d":361.7,"v":-1.2},{"d":362.4,"v":-2.6},{"d":363.3,"v":-3.7},{"d":364.2,"v":-4.6},{"d":364.8,"v":-2.9}],
"cr":[{"d":0.2,"v":3.7},{"d":0.9,"v":4.6},{"d":1.5,"v":5.2},{"d":2.2,"v":5.7},{"d":2.9,"v":6.1},{"d":3.5,"v":6.8},{"d":4.0,"v":7.0},{"d":7.5,"v":7.2},{"d":8.1,"v":7.7},{"d":8.5,"v":4.3},{"d":8.7,"v":7.5},{"d":9.3,"v":7.0},{"d":10.0,"v":6.8},{"d":10.6,"v":5.7},{"d":11.2,"v":5.2},{"d":11.8,"v":5.0},{"d":16.8,"v":4.0},{"d":17.5,"v":4.3},{"d":18.1,"v":5.7},{"d":18.7,"v":6.6},{"d":19.3,"v":6.8},{"d":19.9,"v":5.9},{"d":20.8,"v":6.4},{"d":21.6,"v":5.7},{"d":22.4,"v":6.1},{"d":23.3,"v":5.7},{"d":23.9,"v":7.2},{"d":24.6,"v":6.1},{"d":25.6,"v":5.7},{"d":26.4,"v":6.1},{"d":27.4,"v":5.2},{"d":28.3,"v":6.4},{"d":29.0,"v":5.9},{"d":29.9,"v":5.2},{"d":30.5,"v":4.6},{"d":31.2,"v":5.7},{"d":32.0,"v":6.4},{"d":33.0,"v":5.9},{"d":33.7,"v":6.1},{"d":34.5,"v":4.8},{"d":35.2,"v":4.3},{"d":35.9,"v":3.7},{"d":36.8,"v":4.8},{"d":37.6,"v":5.7},{"d":38.6,"v":6.1},{"d":39.3,"v":6.6},{"d":39.9,"v":4.8},{"d":40.5,"v":5.9},{"d":41.1,"v":6.1},{"d":41.8,"v":4.8},{"d":42.6,"v":5.5},{"d":43.6,"v":5.2},{"d":44.5,"v":5.7},{"d":45.5,"v":5.5},{"d":46.4,"v":5.2},{"d":47.4,"v":6.1},{"d":48.2,"v":5.0},{"d":49.0,"v":4.6},{"d":49.9,"v":5.0},{"d":50.5,"v":5.7},{"d":51.1,"v":4.3},{"d":51.7,"v":3.7},{"d":52.4,"v":2.8},{"d":53.0,"v":3.9},{"d":53.9,"v":4.1},{"d":54.9,"v":3.9},{"d":55.7,"v":3.7},{"d":56.7,"v":3.0},{"d":57.6,"v":3.7},{"d":58.6,"v":4.6},{"d":59.5,"v":4.1},{"d":60.2,"v":4.3},{"d":61.1,"v":3.7},{"d":62.0,"v":3.9},{"d":63.0,"v":3.4},{"d":63.8,"v":4.1},{"d":64.8,"v":3.9},{"d":65.7,"v":4.3},{"d":66.7,"v":4.6},{"d":67.3,"v":4.8},{"d":67.9,"v":5.0},{"d":68.6,"v":5.2},{"d":69.2,"v":5.9},{"d":69.8,"v":5.2},{"d":70.4,"v":4.6},{"d":71.1,"v":4.8},{"d":71.9,"v":4.3},{"d":72.7,"v":4.8},{"d":73.3,"v":4.1},{"d":73.9,"v":3.7},{"d":74.5,"v":2.3},{"d":75.2,"v":3.9},{"d":76.0,"v":4.6},{"d":76.7,"v":5.2},{"d":77.3,"v":4.1},{"d":78.2,"v":3.2},{"d":78.9,"v":4.6},{"d":79.8,"v":5.2},{"d":80.4,"v":3.9},{"d":81.0,"v":3.2},{"d":81.9,"v":3.7},{"d":82.7,"v":3.0},{"d":83.3,"v":3.9},{"d":84.1,"v":5.2},{"d":84.8,"v":4.3},{"d":85.4,"v":3.4},{"d":86.0,"v":3.9},{"d":86.6,"v":3.0},{"d":87.0,"v":1.2},{"d":87.5,"v":4.1},{"d":88.1,"v":4.8},{"d":88.8,"v":4.1},{"d":89.4,"v":2.6},{"d":89.8,"v":-0.6},{"d":90.1,"v":2.3},{"d":90.8,"v":1.7},{"d":91.6,"v":1.0},{"d":92.2,"v":0.3},{"d":92.9,"v":2.3},{"d":93.5,"v":2.8},{"d":94.1,"v":3.2},{"d":94.7,"v":2.3},{"d":95.4,"v":1.9},{"d":96.0,"v":1.2},{"d":96.6,"v":0.5},{"d":97.2,"v":1.4},{"d":97.9,"v":0.3},{"d":98.5,"v":-0.4},{"d":99.4,"v":-0.6},{"d":100.1,"v":-0.1},{"d":100.7,"v":-0.8},{"d":101.2,"v":0.1},{"d":101.7,"v":-1.0},{"d":102.2,"v":-1.9},{"d":102.8,"v":-1.0},{"d":103.2,"v":-3.5},{"d":103.7,"v":-4.2},{"d":104.1,"v":0.3},{"d":104.5,"v":3.0},{"d":105.0,"v":3.7},{"d":105.3,"v":3.0},{"d":106.0,"v":3.2},{"d":106.6,"v":3.0},{"d":107.2,"v":1.7},{"d":107.8,"v":3.2},{"d":108.5,"v":0.5},{"d":109.1,"v":2.8},{"d":109.7,"v":3.0},{"d":110.3,"v":3.2},{"d":110.9,"v":1.2},{"d":111.6,"v":2.8},{"d":112.2,"v":2.6},{"d":112.8,"v":1.4},{"d":113.4,"v":1.9},{"d":117.8,"v":2.6},{"d":118.2,"v":-1.9},{"d":118.7,"v":1.2},{"d":119.3,"v":-0.6},{"d":119.7,"v":-1.5},{"d":120.3,"v":-1.0},{"d":120.9,"v":0.1},{"d":121.5,"v":0.5},{"d":122.2,"v":0.8},{"d":123.0,"v":0.1},{"d":123.8,"v":0.3},{"d":124.7,"v":-0.1},{"d":125.5,"v":-0.4},{"d":126.3,"v":-0.4},{"d":127.2,"v":-0.8},{"d":128.0,"v":-1.0},{"d":128.4,"v":2.1},{"d":128.8,"v":-1.3},{"d":129.6,"v":-1.0},{"d":130.5,"v":-1.0},{"d":131.5,"v":-1.0},{"d":132.5,"v":-0.6},{"d":133.4,"v":-1.0},{"d":134.3,"v":-0.8},{"d":135.0,"v":-1.3},{"d":135.9,"v":-2.4},{"d":136.5,"v":-2.8},{"d":137.1,"v":-2.6},{"d":138.0,"v":-3.0},{"d":138.7,"v":-3.9},{"d":139.4,"v":-2.8},{"d":140.2,"v":-3.0},{"d":141.1,"v":-2.8},{"d":142.1,"v":-3.0},{"d":143.0,"v":-2.8},{"d":144.0,"v":-3.0},{"d":144.9,"v":-3.7},{"d":145.5,"v":-3.5},{"d":146.1,"v":-4.8},{"d":146.7,"v":-3.3},{"d":147.5,"v":-3.0},{"d":148.3,"v":-2.8},{"d":149.3,"v":-2.6},{"d":150.2,"v":-3.0},{"d":151.2,"v":-2.8},{"d":152.1,"v":-3.3},{"d":153.0,"v":-3.5},{"d":153.9,"v":-3.7},{"d":154.8,"v":-3.5},{"d":155.8,"v":-3.9},{"d":156.7,"v":-3.3},{"d":157.4,"v":-3.7},{"d":158.3,"v":-4.2},{"d":159.2,"v":-4.4},{"d":159.9,"v":-3.9},{"d":160.8,"v":-3.7},{"d":161.7,"v":-3.3},{"d":162.4,"v":-3.0},{"d":163.3,"v":-2.6},{"d":164.2,"v":-2.8},{"d":164.9,"v":-2.8},{"d":165.8,"v":-3.3},{"d":166.7,"v":-3.5},{"d":167.4,"v":-3.5},{"d":167.9,"v":-7.3},{"d":168.5,"v":-7.3},{"d":169.3,"v":-7.1},{"d":170.2,"v":-7.5},{"d":170.8,"v":-7.7},{"d":171.2,"v":-3.7},{"d":171.7,"v":-3.5},{"d":172.4,"v":-4.2},{"d":172.9,"v":-3.7},{"d":173.3,"v":-7.7},{"d":173.9,"v":-8.0},{"d":174.3,"v":-9.1},{"d":174.5,"v":-5.3},{"d":175.1,"v":-4.8},{"d":175.8,"v":-5.1},{"d":176.6,"v":-4.6},{"d":177.4,"v":-4.4},{"d":178.3,"v":-4.8},{"d":179.1,"v":-3.7},{"d":179.8,"v":-4.4},{"d":180.5,"v":-4.6},{"d":181.4,"v":-4.8},{"d":182.3,"v":-4.6},{"d":183.2,"v":-4.8},{"d":184.1,"v":-4.6},{"d":185.1,"v":-5.1},{"d":186.0,"v":-5.7},{"d":186.7,"v":-5.3},{"d":187.6,"v":-4.8},{"d":188.5,"v":-4.6},{"d":189.5,"v":-5.1},{"d":190.5,"v":-5.3},{"d":191.3,"v":-5.3},{"d":192.2,"v":-5.7},{"d":193.0,"v":-5.5},{"d":193.8,"v":-5.3},{"d":194.7,"v":-5.7},{"d":195.5,"v":-5.5},{"d":196.3,"v":-5.3},{"d":197.2,"v":-5.1},{"d":198.2,"v":-4.8},{"d":199.2,"v":-4.8},{"d":200.1,"v":-4.6},{"d":201.1,"v":-4.8},{"d":202.0,"v":-4.8},{"d":203.0,"v":-4.6},{"d":203.8,"v":-4.8},{"d":204.7,"v":-4.6},{"d":205.7,"v":-4.2},{"d":206.3,"v":-4.6},{"d":207.2,"v":-4.8},{"d":208.2,"v":-5.1},{"d":209.1,"v":-5.3},{"d":210.1,"v":-5.1},{"d":210.9,"v":-4.8},{"d":211.9,"v":-4.6},{"d":212.9,"v":-4.6},{"d":213.8,"v":-4.8},{"d":214.7,"v":-4.6},{"d":215.7,"v":-4.8},{"d":216.5,"v":-4.6},{"d":217.5,"v":-4.4},{"d":218.5,"v":-4.6},{"d":219.4,"v":-4.4},{"d":220.4,"v":-3.7},{"d":221.3,"v":-4.2},{"d":222.3,"v":-4.6},{"d":223.1,"v":-4.2},{"d":224.1,"v":-3.9},{"d":225.0,"v":-3.5},{"d":225.9,"v":-3.7},{"d":226.9,"v":-3.9},{"d":227.9,"v":-3.5},{"d":228.8,"v":-3.7},{"d":229.6,"v":-3.7},{"d":230.6,"v":-3.5},{"d":231.6,"v":-3.7},{"d":232.5,"v":-3.5},{"d":233.4,"v":-3.7},{"d":234.4,"v":-3.9},{"d":235.4,"v":-4.2},{"d":236.2,"v":-4.8},{"d":236.8,"v":-3.9},{"d":238.0,"v":-3.7},{"d":239.3,"v":-4.2},{"d":240.5,"v":-4.4},{"d":241.8,"v":-4.2},{"d":243.0,"v":-4.6},{"d":244.3,"v":-4.4},{"d":245.5,"v":-4.8},{"d":246.8,"v":-4.4},{"d":248.0,"v":-4.6},{"d":251.1,"v":-3.9},{"d":252.4,"v":-3.5},{"d":253.6,"v":-3.7},{"d":254.9,"v":-4.2},{"d":256.1,"v":-3.7},{"d":257.4,"v":-2.4},{"d":258.6,"v":-2.8},{"d":259.9,"v":-3.3},{"d":261.1,"v":-3.5},{"d":262.4,"v":-3.7},{"d":263.6,"v":-3.5},{"d":264.9,"v":-3.3},{"d":266.1,"v":-3.0},{"d":267.3,"v":-3.5},{"d":268.6,"v":-3.7},{"d":269.8,"v":-3.3},{"d":271.1,"v":-2.8},{"d":271.7,"v":-2.1},{"d":272.3,"v":-2.6},{"d":273.2,"v":-3.0},{"d":274.2,"v":-3.3},{"d":274.8,"v":-4.2},{"d":275.7,"v":-3.0},{"d":276.7,"v":-2.8},{"d":277.9,"v":-2.8},{"d":279.2,"v":-3.0},{"d":280.4,"v":-3.3},{"d":281.3,"v":-3.5},{"d":281.7,"v":-1.0},{"d":282.1,"v":-3.7},{"d":282.7,"v":-1.5},{"d":283.2,"v":-3.5},{"d":283.7,"v":-0.8},{"d":284.2,"v":-3.0},{"d":284.7,"v":0.3},{"d":285.2,"v":-2.4},{"d":285.8,"v":-1.9},{"d":286.4,"v":-2.1},{"d":286.9,"v":-0.6},{"d":287.5,"v":-2.4},{"d":288.2,"v":0.1},{"d":288.7,"v":-2.6},{"d":289.2,"v":0.3},{"d":289.8,"v":-2.4},{"d":290.4,"v":-2.1},{"d":291.0,"v":-1.5},{"d":291.6,"v":-0.6},{"d":292.3,"v":0.8},{"d":292.9,"v":2.1},{"d":293.5,"v":1.7},{"d":294.1,"v":2.3},{"d":294.8,"v":1.4},{"d":295.4,"v":1.9},{"d":296.0,"v":1.7},{"d":296.6,"v":2.3},{"d":297.9,"v":2.8},{"d":299.1,"v":3.4},{"d":300.1,"v":3.7},{"d":300.7,"v":4.6},{"d":301.4,"v":3.2},{"d":302.2,"v":2.6},{"d":303.1,"v":3.2},{"d":304.1,"v":2.6},{"d":305.0,"v":3.2},{"d":305.7,"v":2.1},{"d":306.6,"v":1.7},{"d":307.5,"v":1.9},{"d":308.5,"v":1.2},{"d":309.4,"v":0.1},{"d":310.3,"v":1.2},{"d":311.2,"v":2.1},{"d":312.0,"v":3.7},{"d":312.8,"v":3.7},{"d":313.7,"v":3.9},{"d":314.7,"v":3.4},{"d":315.3,"v":2.8},{"d":315.9,"v":1.4},{"d":316.8,"v":2.1},{"d":317.8,"v":1.9},{"d":318.7,"v":1.2},{"d":319.5,"v":0.8},{"d":320.3,"v":1.0},{"d":321.2,"v":0.8},{"d":321.9,"v":1.4},{"d":322.8,"v":1.0},{"d":323.7,"v":1.7},{"d":324.4,"v":3.0},{"d":325.3,"v":2.3},{"d":326.2,"v":1.9},{"d":326.9,"v":1.2},{"d":327.8,"v":1.4},{"d":328.7,"v":1.2},{"d":329.4,"v":1.9},{"d":330.3,"v":1.0},{"d":331.2,"v":0.1},{"d":331.9,"v":0.8},{"d":332.8,"v":1.4},{"d":333.7,"v":1.0},{"d":334.4,"v":1.2},{"d":335.3,"v":0.1},{"d":336.2,"v":0.5},{"d":337.2,"v":1.2},{"d":338.0,"v":1.7},{"d":339.0,"v":1.2},{"d":339.9,"v":1.7},{"d":340.6,"v":2.3},{"d":341.5,"v":3.7},{"d":342.4,"v":4.1},{"d":343.1,"v":5.0},{"d":344.0,"v":5.5},{"d":344.9,"v":5.2},{"d":345.6,"v":5.7},{"d":346.5,"v":6.6},{"d":347.1,"v":5.2},{"d":347.7,"v":5.7},{"d":348.4,"v":4.8},{"d":349.0,"v":3.4},{"d":349.6,"v":2.3},{"d":350.2,"v":3.9},{"d":350.9,"v":4.8},{"d":351.5,"v":4.1},{"d":352.1,"v":5.9},{"d":353.0,"v":5.7},{"d":353.7,"v":7.0},{"d":354.4,"v":5.2},{"d":355.2,"v":4.8},{"d":356.1,"v":5.0},{"d":356.7,"v":3.9},{"d":357.2,"v":4.1},{"d":357.7,"v":1.4},{"d":358.3,"v":3.7},{"d":359.0,"v":3.7},{"d":359.6,"v":3.9},{"d":360.5,"v":4.1},{"d":361.5,"v":5.2},{"d":362.1,"v":4.1},{"d":362.7,"v":3.0},{"d":363.3,"v":2.6},{"d":364.0,"v":2.1},{"d":364.8,"v":1.7}]
},
"vconcat":[
{"width":975,"height":157,
 "layer":[
 {"data":{"name":"h"},"mark":{"type":"line","color":"#0000ff","strokeWidth":1,"clip":true},
  "encoding":{
   "x":{"field":"d","type":"quantitative","title":null,"scale":{"domain":[0,365],"nice":false,"zero":false},
     "axis":{"values":[0,7.75,15.5,23.25,31,38,45,52,59,66.75,74.5,82.25,90,97.5,105,112.5,120,127.75,135.5,143.25,151,158.5,166,173.5,181,188.75,196.5,204.25,212,219.75,227.5,235.25,243,250.5,258,265.5,273,280.75,288.5,296.25,304,311.5,319,326.5,334,341.75,349.5,357.25,365],"labels":false,"grid":true,
       "gridOpacity":{"condition":{"test":"indexof([0,31,59,90,120,151,181,212,243,273,304,334,365], datum.value) >= 0","value":1},"value":0}}},
   "y":{"field":"v","type":"quantitative","title":null,"scale":{"domain":[-448,456],"nice":false,"zero":false},
     "axis":{"values":[-400,-200,0,200,400],"grid":true,"labelOverlap":false,"labelSeparation":-30,"labelExpr":"'' + datum.value"}}}},
 {"data":{"values":[{"label":"H100-<H100>, m"}]},"mark":{"type":"text","align":"left","baseline":"alphabetic","fontSize":20,"font":"Liberation Sans","color":"#000"},
  "encoding":{"x":{"datum":11.1,"type":"quantitative"},"y":{"datum":252,"type":"quantitative","axis":{"values":[-400,-200,0,200,400],"grid":true,"labelOverlap":false,"labelSeparation":-30,"labelExpr":"'' + datum.value"}},"text":{"field":"label"}}},
 {"data":{"values":[{"label":"YangBaJing"}]},"mark":{"type":"text","align":"right","baseline":"alphabetic","fontSize":26,"fontWeight":"bold","font":"Liberation Sans","color":"#000"},
  "encoding":{"x":{"datum":361.3,"type":"quantitative"},"y":{"datum":247,"type":"quantitative","axis":{"values":[-400,-200,0,200,400],"grid":true,"labelOverlap":false,"labelSeparation":-30,"labelExpr":"'' + datum.value"}},"text":{"field":"label"}}}
 ]},
{"width":975,"height":155,
 "layer":[
 {"data":{"name":"tm"},"mark":{"type":"line","color":"#0000ff","strokeWidth":1,"clip":true},
  "encoding":{
   "x":{"field":"d","type":"quantitative","title":null,"scale":{"domain":[0,365],"nice":false,"zero":false},
     "axis":{"values":[0,7.75,15.5,23.25,31,38,45,52,59,66.75,74.5,82.25,90,97.5,105,112.5,120,127.75,135.5,143.25,151,158.5,166,173.5,181,188.75,196.5,204.25,212,219.75,227.5,235.25,243,250.5,258,265.5,273,280.75,288.5,296.25,304,311.5,319,326.5,334,341.75,349.5,357.25,365],"labels":false,"grid":true,
       "gridOpacity":{"condition":{"test":"indexof([0,31,59,90,120,151,181,212,243,273,304,334,365], datum.value) >= 0","value":1},"value":0}}},
   "y":{"field":"v","type":"quantitative","title":null,"scale":{"domain":[-14.7,12.1],"nice":false,"zero":false},
     "axis":{"values":[-10,0,10],"grid":true,"labelOverlap":false,"labelExpr":"'' + datum.value"}}}},
 {"data":{"values":[{"label":"Tm-<Tm>, K"}]},"mark":{"type":"text","align":"left","baseline":"alphabetic","fontSize":23,"font":"Liberation Sans","color":"#000"},
  "encoding":{"x":{"datum":4.6,"type":"quantitative"},"y":{"datum":4.3,"type":"quantitative"},"text":{"field":"label"}}}
 ]},
{"width":975,"height":155,
 "layer":[
 {"data":{"name":"te"},"mark":{"type":"line","color":"#0000ff","strokeWidth":1,"clip":true},
  "encoding":{
   "x":{"field":"d","type":"quantitative","title":null,"scale":{"domain":[0,365],"nice":false,"zero":false},
     "axis":{"values":[0,7.75,15.5,23.25,31,38,45,52,59,66.75,74.5,82.25,90,97.5,105,112.5,120,127.75,135.5,143.25,151,158.5,166,173.5,181,188.75,196.5,204.25,212,219.75,227.5,235.25,243,250.5,258,265.5,273,280.75,288.5,296.25,304,311.5,319,326.5,334,341.75,349.5,357.25,365],"labels":false,"grid":true,
       "gridOpacity":{"condition":{"test":"indexof([0,31,59,90,120,151,181,212,243,273,304,334,365], datum.value) >= 0","value":1},"value":0}}},
   "y":{"field":"v","type":"quantitative","title":null,"scale":{"domain":[-12.8,13.2],"nice":false,"zero":false},
     "axis":{"values":[-10,0,10],"grid":true,"labelOverlap":false,"labelExpr":"'' + datum.value"}}}},
 {"data":{"values":[{"label":"Teff-<Teff>, K"}]},"mark":{"type":"text","align":"left","baseline":"alphabetic","fontSize":20,"font":"Liberation Sans","color":"#000"},
  "encoding":{"x":{"datum":6.7,"type":"quantitative"},"y":{"datum":4.6,"type":"quantitative"},"text":{"field":"label"}}}
 ]},
{"width":975,"height":155,
 "layer":[
 {"data":{"name":"cr"},"mark":{"type":"line","color":"#ff0000","strokeWidth":1,"clip":true},
  "encoding":{
   "x":{"field":"d","type":"quantitative","title":null,"scale":{"domain":[0,365],"nice":false,"zero":false},
     "axis":{"values":[0,7.75,15.5,23.25,31,38,45,52,59,66.75,74.5,82.25,90,97.5,105,112.5,120,127.75,135.5,143.25,151,158.5,166,173.5,181,188.75,196.5,204.25,212,219.75,227.5,235.25,243,250.5,258,265.5,273,280.75,288.5,296.25,304,311.5,319,326.5,334,341.75,349.5,357.25,365],"labels":true,"grid":true,
       "gridOpacity":{"condition":{"test":"indexof([0,31,59,90,120,151,181,212,243,273,304,334,365], datum.value) >= 0","value":1},"value":0},
       "labelExpr":"datum.value==0?'янв':datum.value==31?'фев':datum.value==59?'мар':datum.value==90?'апр':datum.value==120?'май':datum.value==151?'июн':datum.value==181?'июл':datum.value==212?'авг':datum.value==243?'сен':datum.value==273?'окт':datum.value==304?'ноя':datum.value==334?'дек':''"}},
   "y":{"field":"v","type":"quantitative","title":null,"scale":{"domain":[-10.4,10.4],"nice":false,"zero":false},
     "axis":{"values":[-10,-5,0,5,10],"grid":true,"labelOverlap":false,"labelSeparation":-30,"labelExpr":"'' + datum.value"}}}},
 {"data":{"values":[{"label":"count rate, %"}]},"mark":{"type":"text","align":"left","baseline":"alphabetic","fontSize":23,"font":"Liberation Sans","color":"#000"},
  "encoding":{"x":{"datum":4.9,"type":"quantitative"},"y":{"datum":-3.4,"type":"quantitative","axis":{"values":[-10,-5,0,5,10],"grid":true,"labelOverlap":false,"labelSeparation":-30,"labelExpr":"'' + datum.value"}},"text":{"field":"label"}}},
 {"data":{"values":[{"label":"2013"}]},"mark":{"type":"text","align":"right","baseline":"alphabetic","fontSize":26,"fontWeight":"bold","font":"Liberation Sans","color":"#000"},
  "encoding":{"x":{"datum":344.4,"type":"quantitative"},"y":{"datum":-8.8,"type":"quantitative","axis":{"values":[-10,-5,0,5,10],"grid":true,"labelOverlap":false,"labelSeparation":-30,"labelExpr":"'' + datum.value"}},"text":{"field":"label"}}}
 ]}
]
}
